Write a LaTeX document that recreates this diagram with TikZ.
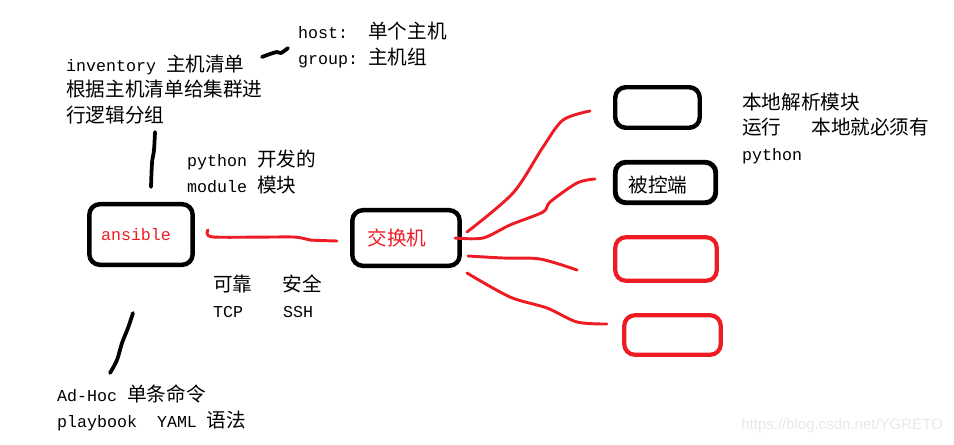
\documentclass[tikz,border=0pt]{standalone}
\usepackage{fontspec}
\setmainfont{Liberation Mono}
\newfontfamily\cjk[Scale=1.18]{Noto Sans CJK SC}
\newfontfamily\wmfont{Liberation Sans}
\usetikzlibrary{positioning}
\definecolor{penred}{RGB}{237,28,36}

\tikzset{
 box/.style={draw=black, line width=3.8pt, rounded corners=9pt, inner sep=0pt},
 redbox/.style={draw=penred, line width=3.6pt, rounded corners=9pt, inner sep=0pt},
 note/.style={anchor=base west, align=left, inner sep=0pt, font=\fontsize{14.2}{21.7}\selectfont},
 wire/.style={penred, line width=2.5pt, line cap=round, line join=round},
 pen/.style={black, line width=3.2pt, line cap=round, line join=round}
}

\begin{document}
\begin{tikzpicture}[x=0.03cm, y=-0.03cm]

\useasboundingbox (0,0) rectangle (954,444);

% boxes
\node[box, minimum width=3.1cm, minimum height=1.82cm,
 label={[text=penred, font=\fontsize{14.2}{17}\selectfont, xshift=-0.15cm]center:ansible}] (ans) at (141,234.5) {};
\node[box, minimum width=3.22cm, minimum height=1.67cm,
 label={[text=penred, xshift=-0.27cm]center:\fontsize{14.2}{17}\selectfont\cjk 交换机}] (sw) at (406,238) {};

\node[box, minimum width=2.535cm, minimum height=1.215cm] (h1) at (657.5,107.5) {};
\node[box, line width=4.2pt, minimum width=3.015cm, minimum height=1.215cm,
 label={[xshift=-0.23cm, yshift=-0.08cm]center:\fontsize{14.2}{17}\selectfont\cjk 被控端}] (h2) at (665.5,182.5) {};
\node[redbox, minimum width=3.045cm, minimum height=1.305cm] (h3) at (666,259) {};
\node[redbox, minimum width=2.895cm, minimum height=1.185cm] (h4) at (672.5,335) {};

% texts (base = last line)
\node[note] (hosts) at (298,64) {host:~~{\cjk 单个主机}\\group:~{\cjk 主机组}};
\node[note] (inv) at (66,122) {inventory {\cjk 主机清单}\\{\cjk 根据主机清单给集群进}\\{\cjk 行逻辑分组}};
\node[note] (mods) at (187,192) {python {\cjk 开发的}\\module {\cjk 模块}};
\node[note] (proto) at (213,317) {{\cjk 可靠}~~~{\cjk 安全}\\TCP~~~~SSH};
\node[note] (cmds) at (57,427) {Ad-Hoc {\cjk 单条命令}\\playbook~~YAML {\cjk 语法}};
\node[note] (local) at (742,160) {{\cjk 本地解析模块}\\{\cjk 运行}~~~{\cjk 本地就必须有}\\python};

\node[anchor=east, inner sep=0pt, text=black!9, font=\wmfont\fontsize{12.8}{14}\selectfont] (mark) at (943,426) {https://blog.csdn.net/YGRETO};

% black pen strokes
\draw[pen] plot[smooth] coordinates {(262,57) (270,54) (277,52) (281,53) (288,48)};
\draw[pen] plot[smooth] coordinates {(155,132) (154,150) (152,163) (151,187)};
\draw[pen] plot[smooth] coordinates {(133,313) (128,328) (122,343) (117,360) (110,373)};

% red wires
\coordinate (a0) at (208,230);
\coordinate (a1) at (337,241);
\draw[wire] plot[smooth, tension=0.4] coordinates {(a0) (213,237) (293,237) (310,240) (a1)};

\coordinate (s1) at (467,232);
\coordinate (e1) at (590,111);
\draw[wire] plot[smooth] coordinates {(s1) (513,193) (543,147) (563,120) (e1)};

\coordinate (s2) at (455,238);
\coordinate (e2) at (595,179);
\draw[wire] plot[smooth, tension=0.5] coordinates {(s2) (483,238) (510,225) (543,212) (550,202) (577,183) (e2)};

\coordinate (s3) at (468,256);
\coordinate (e3) at (577,270);
\draw[wire] plot[smooth, tension=0.5] coordinates {(s3) (503,258) (540,259) (e3)};

\coordinate (s4) at (467,273);
\coordinate (e4) at (607,324);
\draw[wire] plot[smooth] coordinates {(s4) (510,297) (547,308) (577,322) (e4)};

\end{tikzpicture}
\end{document}
